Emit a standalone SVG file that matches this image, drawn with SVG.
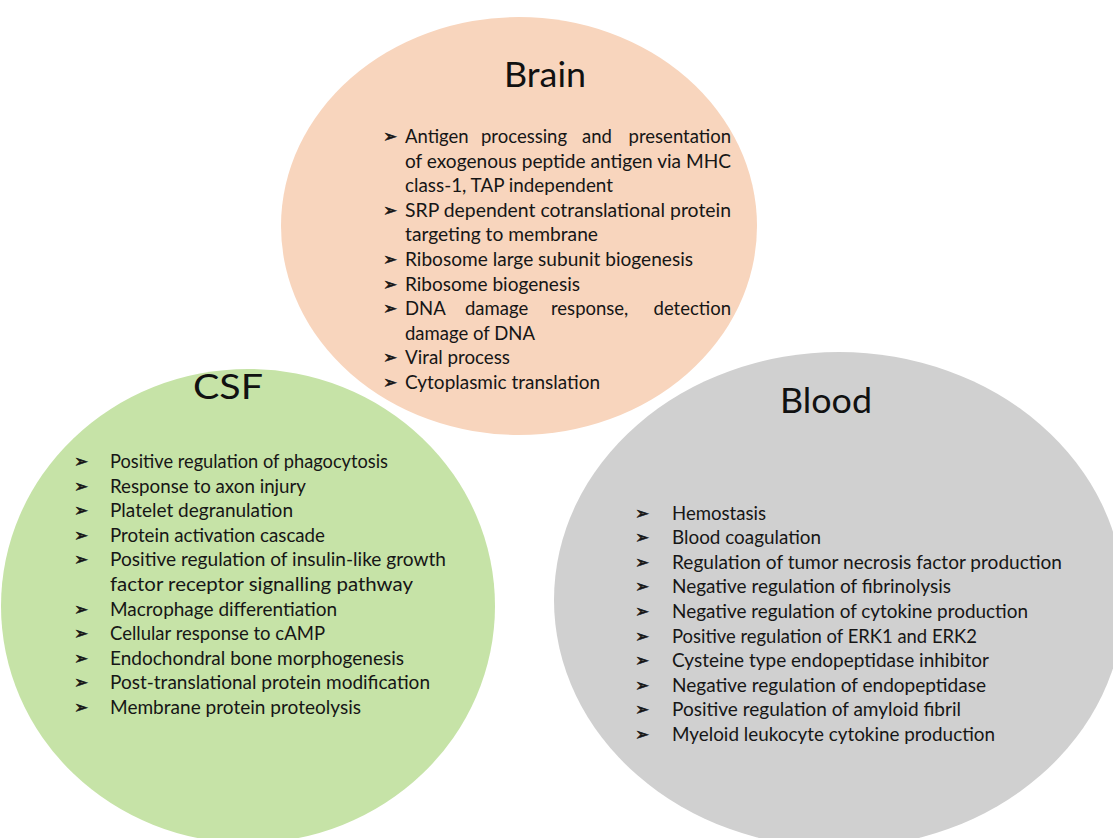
<svg xmlns="http://www.w3.org/2000/svg" width="1113" height="838" viewBox="0 0 1113 838">
<style>
.t{font-family:Lato,"Open Sans","Liberation Sans",sans-serif;font-size:18.5px;fill:#161616}
.h{font-family:Lato,"Open Sans","Liberation Sans",sans-serif;font-size:35px;fill:#111}
.b{font-family:"DejaVu Sans",sans-serif;font-size:17px;fill:#161616;stroke:#161616;stroke-width:0.5}
</style>
<rect width="1113" height="838" fill="#fff"/>
<g id="brain">
<ellipse cx="519" cy="226" rx="238" ry="209" fill="#F8D5BD"/>
<text class="h" x="504" y="87" textLength="82" lengthAdjust="spacingAndGlyphs">Brain</text>
<g class="b">
<text x="383" y="142">➢</text><text x="383" y="216">➢</text><text x="383" y="265">➢</text><text x="383" y="290">➢</text><text x="383" y="314">➢</text><text x="383" y="363">➢</text><text x="383" y="388">➢</text>
</g>
<g class="t">
<text y="143"><tspan x="405">Antigen</tspan><tspan x="481">processing</tspan><tspan x="582">and</tspan></text>
<text x="731" y="143" text-anchor="end">presentation</text>
<text x="405" y="167.6" textLength="326" lengthAdjust="spacingAndGlyphs">of exogenous peptide antigen via MHC</text>
<text x="405" y="192.2" textLength="208" lengthAdjust="spacingAndGlyphs">class-1, TAP independent</text>
<text x="405" y="216.8" textLength="326" lengthAdjust="spacingAndGlyphs">SRP dependent cotranslational protein</text>
<text x="405" y="241.4" textLength="193" lengthAdjust="spacingAndGlyphs">targeting to membrane</text>
<text x="405" y="266" textLength="288" lengthAdjust="spacingAndGlyphs">Ribosome large subunit biogenesis</text>
<text x="405" y="290.6" textLength="175" lengthAdjust="spacingAndGlyphs">Ribosome biogenesis</text>
<text y="315.2"><tspan x="405">DNA</tspan><tspan x="465">damage</tspan><tspan x="551">response,</tspan></text>
<text x="731" y="315.2" text-anchor="end">detection</text>
<text x="405" y="339.8" textLength="130" lengthAdjust="spacingAndGlyphs">damage of DNA</text>
<text x="405" y="364.4" textLength="105" lengthAdjust="spacingAndGlyphs">Viral process</text>
<text x="405" y="389" textLength="195" lengthAdjust="spacingAndGlyphs">Cytoplasmic translation</text>
</g>
</g>
<g id="csf">
<ellipse cx="248" cy="606" rx="247" ry="237" fill="#C6E3A7"/>
<text class="h" x="193" y="399" textLength="70" lengthAdjust="spacingAndGlyphs">CSF</text>
<g class="b">
<text x="74" y="467">➢</text><text x="74" y="491.6">➢</text><text x="74" y="516.2">➢</text><text x="74" y="540.8">➢</text><text x="74" y="565.4">➢</text><text x="74" y="614.6">➢</text><text x="74" y="639.2">➢</text><text x="74" y="663.8">➢</text><text x="74" y="688.4">➢</text><text x="74" y="713">➢</text>
</g>
<g class="t">
<text x="110" y="468" textLength="278" lengthAdjust="spacingAndGlyphs">Positive regulation of phagocytosis</text>
<text x="110" y="492.6" textLength="196" lengthAdjust="spacingAndGlyphs">Response to axon injury</text>
<text x="110" y="517.2" textLength="183" lengthAdjust="spacingAndGlyphs">Platelet degranulation</text>
<text x="110" y="541.8" textLength="215" lengthAdjust="spacingAndGlyphs">Protein activation cascade</text>
<text x="110" y="566.4" textLength="336" lengthAdjust="spacingAndGlyphs">Positive regulation of insulin-like growth</text>
<text x="110" y="591" textLength="303" lengthAdjust="spacingAndGlyphs">factor receptor signalling pathway</text>
<text x="110" y="615.6" textLength="227" lengthAdjust="spacingAndGlyphs">Macrophage differentiation</text>
<text x="110" y="640.2" textLength="215" lengthAdjust="spacingAndGlyphs">Cellular response to cAMP</text>
<text x="110" y="664.8" textLength="294" lengthAdjust="spacingAndGlyphs">Endochondral bone morphogenesis</text>
<text x="110" y="689.4" textLength="320" lengthAdjust="spacingAndGlyphs">Post-translational protein modification</text>
<text x="110" y="714" textLength="251" lengthAdjust="spacingAndGlyphs">Membrane protein proteolysis</text>
</g>
</g>
<g id="blood">
<ellipse cx="839" cy="600" rx="285" ry="248" fill="#D0D0D0"/>
<text class="h" x="780" y="413" textLength="92" lengthAdjust="spacingAndGlyphs">Blood</text>
<g class="b">
<text x="635" y="518.5">➢</text><text x="635" y="543.1">➢</text><text x="635" y="567.7">➢</text><text x="635" y="592.3">➢</text><text x="635" y="616.9">➢</text><text x="635" y="641.5">➢</text><text x="635" y="666.1">➢</text><text x="635" y="690.7">➢</text><text x="635" y="715.3">➢</text><text x="635" y="739.9">➢</text>
</g>
<g class="t">
<text x="672" y="519.5" textLength="94" lengthAdjust="spacingAndGlyphs">Hemostasis</text>
<text x="672" y="544.1" textLength="149" lengthAdjust="spacingAndGlyphs">Blood coagulation</text>
<text x="672" y="568.7" textLength="390" lengthAdjust="spacingAndGlyphs">Regulation of tumor necrosis factor production</text>
<text x="672" y="593.3" textLength="279" lengthAdjust="spacingAndGlyphs">Negative regulation of fibrinolysis</text>
<text x="672" y="617.9" textLength="356" lengthAdjust="spacingAndGlyphs">Negative regulation of cytokine production</text>
<text x="672" y="642.5" textLength="305" lengthAdjust="spacingAndGlyphs">Positive regulation of ERK1 and ERK2</text>
<text x="672" y="667.1" textLength="317" lengthAdjust="spacingAndGlyphs">Cysteine type endopeptidase inhibitor</text>
<text x="672" y="691.7" textLength="314" lengthAdjust="spacingAndGlyphs">Negative regulation of endopeptidase</text>
<text x="672" y="716.3" textLength="289" lengthAdjust="spacingAndGlyphs">Positive regulation of amyloid fibril</text>
<text x="672" y="740.9" textLength="323" lengthAdjust="spacingAndGlyphs">Myeloid leukocyte cytokine production</text>
</g>
</g>
<g id="connectors"/>
</svg>
